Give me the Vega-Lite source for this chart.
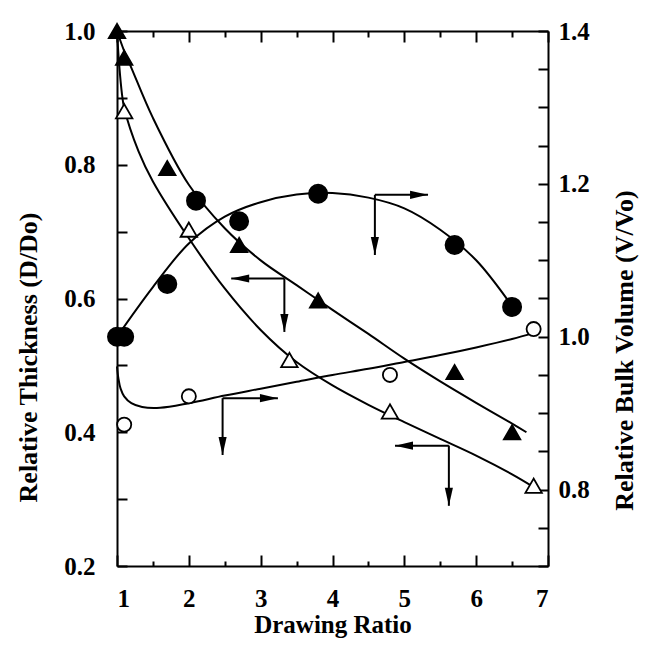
{
  "$schema": "https://vega.github.io/schema/vega-lite/v6.json",
  "width": 431,
  "height": 535,
  "autosize": {"type": "none"},
  "padding": {"left": 117, "top": 31, "right": 97, "bottom": 79},
  "background": "white",
  "config": {
    "view": {"stroke": null},
    "axis": {
      "grid": false,
      "domainColor": "black",
      "domainWidth": 2,
      "tickColor": "black",
      "tickWidth": 2,
      "labelColor": "black",
      "labelFont": "Liberation Serif",
      "labelFontWeight": "bold",
      "labelFontSize": 25,
      "titleColor": "black",
      "titleFont": "Liberation Serif",
      "titleFontWeight": "bold",
      "titleFontSize": 26
    }
  },
  "datasets": {
    "thick_curves": [
      {"series": "filled", "ratio": 1.0, "thickness": 1.0},
      {"series": "filled", "ratio": 1.1, "thickness": 0.97},
      {"series": "filled", "ratio": 1.2, "thickness": 0.945},
      {"series": "filled", "ratio": 1.5, "thickness": 0.87},
      {"series": "filled", "ratio": 2.0, "thickness": 0.77},
      {"series": "filled", "ratio": 2.5, "thickness": 0.705},
      {"series": "filled", "ratio": 3.0, "thickness": 0.657},
      {"series": "filled", "ratio": 3.5, "thickness": 0.62},
      {"series": "filled", "ratio": 4.0, "thickness": 0.583},
      {"series": "filled", "ratio": 4.5, "thickness": 0.547},
      {"series": "filled", "ratio": 5.0, "thickness": 0.51},
      {"series": "filled", "ratio": 5.5, "thickness": 0.476},
      {"series": "filled", "ratio": 6.0, "thickness": 0.444},
      {"series": "filled", "ratio": 6.5, "thickness": 0.413},
      {"series": "filled", "ratio": 6.7, "thickness": 0.4},
      {"series": "open", "ratio": 1.0, "thickness": 1.0},
      {"series": "open", "ratio": 1.03, "thickness": 0.95},
      {"series": "open", "ratio": 1.07, "thickness": 0.905},
      {"series": "open", "ratio": 1.1, "thickness": 0.885},
      {"series": "open", "ratio": 1.3, "thickness": 0.82},
      {"series": "open", "ratio": 1.5, "thickness": 0.775},
      {"series": "open", "ratio": 2.0, "thickness": 0.69},
      {"series": "open", "ratio": 2.5, "thickness": 0.615},
      {"series": "open", "ratio": 3.0, "thickness": 0.553},
      {"series": "open", "ratio": 3.5, "thickness": 0.505},
      {"series": "open", "ratio": 4.0, "thickness": 0.47},
      {"series": "open", "ratio": 4.5, "thickness": 0.441},
      {"series": "open", "ratio": 5.0, "thickness": 0.415},
      {"series": "open", "ratio": 5.5, "thickness": 0.39},
      {"series": "open", "ratio": 6.0, "thickness": 0.365},
      {"series": "open", "ratio": 6.5, "thickness": 0.337},
      {"series": "open", "ratio": 6.8, "thickness": 0.318}
    ],
    "thick_points": [
      {"series": "filled", "ratio": 1.0, "thickness": 1.0},
      {"series": "filled", "ratio": 1.1, "thickness": 0.96},
      {"series": "filled", "ratio": 1.7, "thickness": 0.795},
      {"series": "filled", "ratio": 2.7, "thickness": 0.68},
      {"series": "filled", "ratio": 3.8, "thickness": 0.597},
      {"series": "filled", "ratio": 5.7, "thickness": 0.49},
      {"series": "filled", "ratio": 6.5, "thickness": 0.4},
      {"series": "open", "ratio": 1.1, "thickness": 0.88},
      {"series": "open", "ratio": 2.0, "thickness": 0.703},
      {"series": "open", "ratio": 3.4, "thickness": 0.508},
      {"series": "open", "ratio": 4.8, "thickness": 0.431},
      {"series": "open", "ratio": 6.8, "thickness": 0.32}
    ],
    "vol_curves": [
      {"series": "filled", "ratio": 1.0, "volume": 1.0},
      {"series": "filled", "ratio": 1.5, "volume": 1.065},
      {"series": "filled", "ratio": 2.0, "volume": 1.122},
      {"series": "filled", "ratio": 2.5, "volume": 1.157},
      {"series": "filled", "ratio": 3.0, "volume": 1.176},
      {"series": "filled", "ratio": 3.5, "volume": 1.186},
      {"series": "filled", "ratio": 4.0, "volume": 1.188},
      {"series": "filled", "ratio": 4.5, "volume": 1.182},
      {"series": "filled", "ratio": 5.0, "volume": 1.168},
      {"series": "filled", "ratio": 5.5, "volume": 1.14},
      {"series": "filled", "ratio": 6.0, "volume": 1.1},
      {"series": "filled", "ratio": 6.5, "volume": 1.04},
      {"series": "open", "ratio": 1.0, "volume": 0.961},
      {"series": "open", "ratio": 1.02, "volume": 0.945},
      {"series": "open", "ratio": 1.05, "volume": 0.932},
      {"series": "open", "ratio": 1.1, "volume": 0.922},
      {"series": "open", "ratio": 1.2, "volume": 0.913},
      {"series": "open", "ratio": 1.35, "volume": 0.908},
      {"series": "open", "ratio": 1.6, "volume": 0.907},
      {"series": "open", "ratio": 2.0, "volume": 0.913},
      {"series": "open", "ratio": 2.5, "volume": 0.923},
      {"series": "open", "ratio": 3.0, "volume": 0.932},
      {"series": "open", "ratio": 3.5, "volume": 0.941},
      {"series": "open", "ratio": 4.0, "volume": 0.95},
      {"series": "open", "ratio": 4.5, "volume": 0.958},
      {"series": "open", "ratio": 5.0, "volume": 0.967},
      {"series": "open", "ratio": 5.5, "volume": 0.976},
      {"series": "open", "ratio": 6.0, "volume": 0.986},
      {"series": "open", "ratio": 6.5, "volume": 0.997},
      {"series": "open", "ratio": 6.8, "volume": 1.005}
    ],
    "vol_points": [
      {"series": "open", "ratio": 1.0, "volume": 1.0},
      {"series": "open", "ratio": 1.1, "volume": 0.885},
      {"series": "open", "ratio": 2.0, "volume": 0.922},
      {"series": "open", "ratio": 4.8, "volume": 0.95},
      {"series": "open", "ratio": 6.8, "volume": 1.01},
      {"series": "filled", "ratio": 1.0, "volume": 1.0},
      {"series": "filled", "ratio": 1.1, "volume": 1.0},
      {"series": "filled", "ratio": 1.7, "volume": 1.069},
      {"series": "filled", "ratio": 2.1, "volume": 1.178},
      {"series": "filled", "ratio": 2.7, "volume": 1.151},
      {"series": "filled", "ratio": 3.8, "volume": 1.187},
      {"series": "filled", "ratio": 5.7, "volume": 1.12},
      {"series": "filled", "ratio": 6.5, "volume": 1.039}
    ],
    "arrows": [
      {"ratio": 4.59, "thickness": 0.755, "ratio2": 5.33, "thickness2": 0.755, "dir": "right"},
      {"ratio": 4.59, "thickness": 0.755, "ratio2": 4.59, "thickness2": 0.665, "dir": "down"},
      {"ratio": 3.33, "thickness": 0.63, "ratio2": 2.59, "thickness2": 0.63, "dir": "left"},
      {"ratio": 3.33, "thickness": 0.63, "ratio2": 3.33, "thickness2": 0.55, "dir": "down"},
      {"ratio": 2.47, "thickness": 0.451, "ratio2": 3.24, "thickness2": 0.451, "dir": "right"},
      {"ratio": 2.47, "thickness": 0.451, "ratio2": 2.47, "thickness2": 0.366, "dir": "down"},
      {"ratio": 5.62, "thickness": 0.38, "ratio2": 4.87, "thickness2": 0.38, "dir": "left"},
      {"ratio": 5.62, "thickness": 0.38, "ratio2": 5.62, "thickness2": 0.29, "dir": "down"}
    ]
  },
  "layer": [
    {
      "data": {"name": "thick_curves"},
      "mark": {"type": "line", "interpolate": "catmull-rom", "stroke": "black", "strokeWidth": 2},
      "encoding": {
        "x": {
          "field": "ratio", "type": "quantitative",
          "scale": {"domain": [1, 7], "nice": false, "zero": false},
          "axis": {
            "orient": "bottom", "values": [1, 2, 3, 4, 5, 6, 7], "format": "d",
            "tickSize": -11, "labelPadding": 31,
            "title": "Drawing Ratio", "titlePadding": 1, "titleFontSize": 25
          }
        },
        "y": {
          "field": "thickness", "type": "quantitative",
          "scale": {"domain": [0.2, 1.0], "nice": false, "zero": false},
          "axis": {
            "orient": "left",
            "values": [0.2, 0.3, 0.4, 0.5, 0.6, 0.7, 0.8, 0.9, 1.0],
            "labelExpr": "round(datum.value*10) % 2 == 0 ? format(datum.value, '.1f') : ''",
            "tickSize": -10, "labelPadding": 32,
            "title": "Relative Thickness (D/Do)", "titlePadding": 22, "titleY": 326
          }
        },
        "detail": {"field": "series", "type": "nominal"}
      }
    },
    {
      "data": {"name": "vol_curves"},
      "mark": {"type": "line", "interpolate": "catmull-rom", "stroke": "black", "strokeWidth": 2},
      "encoding": {
        "x": {
          "field": "ratio", "type": "quantitative",
          "scale": {"domain": [1, 7], "nice": false, "zero": false},
          "axis": {
            "orient": "top", "values": [1, 2, 3, 4, 5, 6, 7],
            "tickSize": -11, "labels": false, "title": null
          }
        },
        "y": {
          "field": "volume", "type": "quantitative",
          "scale": {"domain": [0.7, 1.4], "nice": false, "zero": false},
          "axis": {
            "orient": "right",
            "values": [0.7, 0.75, 0.8, 0.85, 0.9, 0.95, 1.0, 1.05, 1.1, 1.15, 1.2, 1.25, 1.3, 1.35, 1.4],
            "labelExpr": "round(datum.value*20) % 4 == 0 ? format(datum.value, '.1f') : ''",
            "tickSize": -10, "labelPadding": 20,
            "title": "Relative Bulk Volume (V/Vo)", "titleAngle": -90, "titlePadding": 48, "titleY": 319
          }
        },
        "detail": {"field": "series", "type": "nominal"}
      }
    },
    {
      "data": {"name": "arrows"},
      "mark": {"type": "rule", "stroke": "black", "strokeWidth": 2},
      "encoding": {
        "x": {"field": "ratio", "type": "quantitative", "scale": {"domain": [1, 7], "nice": false, "zero": false}, "axis": null},
        "y": {"field": "thickness", "type": "quantitative", "scale": {"domain": [0.2, 1.0], "nice": false, "zero": false}, "axis": null},
        "x2": {"field": "ratio2"},
        "y2": {"field": "thickness2"}
      }
    },
    {
      "data": {"name": "arrows"},
      "mark": {"type": "point", "filled": true, "fill": "black", "strokeWidth": 0, "size": 324, "opacity": 1},
      "encoding": {
        "x": {"field": "ratio2", "type": "quantitative", "scale": {"domain": [1, 7], "nice": false, "zero": false}, "axis": null},
        "y": {"field": "thickness2", "type": "quantitative", "scale": {"domain": [0.2, 1.0], "nice": false, "zero": false}, "axis": null},
        "shape": {
          "field": "dir", "type": "nominal",
          "scale": {"domain": ["down", "left", "right"], "range": ["M0,0L-0.45,-2L0.45,-2Z", "M0,0L2,-0.45L2,0.45Z", "M0,0L-2,-0.45L-2,0.45Z"]},
          "legend": null
        }
      }
    },
    {
      "data": {"name": "thick_points"},
      "mark": {"type": "point", "shape": "triangle-up", "size": 270, "stroke": "black", "strokeWidth": 1.8, "opacity": 1},
      "encoding": {
        "x": {"field": "ratio", "type": "quantitative", "scale": {"domain": [1, 7], "nice": false, "zero": false}, "axis": null},
        "y": {"field": "thickness", "type": "quantitative", "scale": {"domain": [0.2, 1.0], "nice": false, "zero": false}, "axis": null},
        "fill": {"field": "series", "type": "nominal", "scale": {"domain": ["filled", "open"], "range": ["black", "white"]}, "legend": null}
      }
    },
    {
      "data": {"name": "vol_points"},
      "mark": {"type": "point", "shape": "circle", "stroke": "black", "strokeWidth": 1.8, "opacity": 1},
      "encoding": {
        "x": {"field": "ratio", "type": "quantitative", "scale": {"domain": [1, 7], "nice": false, "zero": false}, "axis": null},
        "y": {"field": "volume", "type": "quantitative", "scale": {"domain": [0.7, 1.4], "nice": false, "zero": false}, "axis": null},
        "fill": {"field": "series", "type": "nominal", "scale": {"domain": ["filled", "open"], "range": ["black", "white"]}, "legend": null},
        "size": {"field": "series", "type": "nominal", "scale": {"domain": ["filled", "open"], "range": [330, 200]}, "legend": null}
      }
    },
    {
      "data": {"name": "thick_points"},
      "mark": {"type": "point", "opacity": 0},
      "encoding": {
        "x": {
          "field": "ratio", "type": "quantitative",
          "scale": {"domain": [1, 7], "nice": false, "zero": false},
          "axis": {"orient": "bottom", "values": [1.5, 2.5, 3.5, 4.5, 5.5, 6.5], "tickSize": -5, "labels": false, "domain": false, "title": null}
        },
        "y": {"field": "thickness", "type": "quantitative", "scale": {"domain": [0.2, 1.0], "nice": false, "zero": false}, "axis": null}
      }
    },
    {
      "data": {"name": "thick_points"},
      "mark": {"type": "point", "opacity": 0},
      "encoding": {
        "x": {
          "field": "ratio", "type": "quantitative",
          "scale": {"domain": [1, 7], "nice": false, "zero": false},
          "axis": {"orient": "top", "values": [1.5, 2.5, 3.5, 4.5, 5.5, 6.5], "tickSize": -6, "labels": false, "domain": false, "title": null}
        },
        "y": {"field": "thickness", "type": "quantitative", "scale": {"domain": [0.2, 1.0], "nice": false, "zero": false}, "axis": null}
      }
    }
  ],
  "resolve": {
    "scale": {"x": "independent", "y": "independent", "fill": "independent", "shape": "independent", "size": "independent"},
    "axis": {"x": "independent", "y": "independent"}
  }
}
